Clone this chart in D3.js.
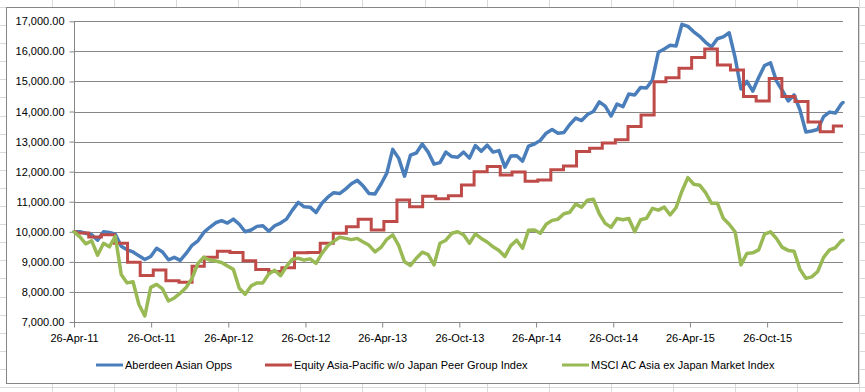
<!DOCTYPE html>
<html>
<head>
<meta charset="utf-8">
<script src="https://cdn.jsdelivr.net/npm/d3@7"></script>
<style>
html,body{margin:0;padding:0;background:#fff;}
svg{display:block;font-family:"Liberation Sans",Arial,sans-serif;}
</style>
</head>
<body>
<svg id="chart" width="865" height="392"></svg>
<script>
// ---- data ----
const startDate = "2011-04-26";
const endDate = "2016-04-23";
const tickLabels = ["26-Apr-11","26-Oct-11","26-Apr-12","26-Oct-12","26-Apr-13","26-Oct-13","26-Apr-14","26-Oct-14","26-Apr-15","26-Oct-15"];
const yTicks = [7000,8000,9000,10000,11000,12000,13000,14000,15000,16000,17000];
const seriesNames = ["Aberdeen Asian Opps","Equity Asia-Pacific w/o Japan Peer Group Index","MSCI AC Asia ex Japan Market Index"];
const seriesColors = ["#4a7ebb","#be4b48","#98b954"];

// fortnightly readings (from startDate, every 14 days, plus endDate)
const aberdeen = [10000,10000,9950,9900,9720,10000,9980,9920,9520,9400,
  9330,9200,9080,9180,9450,9330,9070,9150,9050,9280,
  9550,9700,9980,10150,10300,10370,10290,10420,10250,10000,
  10060,10180,10200,10020,10200,10290,10420,10720,10980,10830,
  10820,10640,10950,11150,11300,11270,11420,11600,11710,11520,
  11270,11260,11580,11950,12740,12450,11850,12550,12620,12920,
  12650,12250,12300,12650,12500,12480,12650,12450,12870,12680,
  12880,12650,12700,12150,12520,12530,12350,12850,12920,13040,
  13280,13400,13280,13300,13570,13780,13700,13900,14000,14320,
  14180,13850,14250,14160,14580,14550,14800,14780,15050,15970,
  16080,16200,16180,16900,16830,16650,16500,16300,16150,16420,
  16480,16620,15800,14750,15000,14680,15130,15530,15620,15020,
  14700,14350,14550,14050,13320,13350,13400,13830,13980,13950,
  14250,14300];
const msci = [10000,9830,9600,9700,9220,9620,9500,9850,8580,8300,
  8340,7580,7200,8150,8250,8100,7700,7800,7960,8150,
  8450,8950,9150,9060,9030,8980,8860,8750,8120,7920,
  8200,8300,8300,8600,8720,8540,8850,9090,9120,9060,
  9100,8950,9280,9540,9680,9820,9780,9740,9780,9660,
  9550,9330,9480,9750,9900,9550,9000,8880,9120,9320,
  9240,8900,9620,9720,9950,10000,9900,9620,9930,9780,
  9660,9500,9380,9180,9540,9720,9450,10050,10060,9950,
  10250,10380,10420,10600,10650,10920,10820,11050,11080,10600,
  10280,10150,10440,10400,10440,10000,10400,10450,10780,10720,
  10820,10560,10800,11350,11800,11580,11550,11300,10950,10950,
  10450,10250,10000,8900,9280,9300,9400,9920,10000,9780,
  9480,9380,9350,8750,8450,8500,8680,9150,9400,9470,
  9700,9720];

// monthly peer group index (held between month ends)
const peerDates = ["2011-04-26","2011-04-30","2011-05-31","2011-06-30","2011-07-31","2011-08-31","2011-09-30","2011-10-31","2011-11-30","2011-12-31",
  "2012-01-31","2012-02-29","2012-03-31","2012-04-30","2012-05-31","2012-06-30","2012-07-31","2012-08-31","2012-09-30","2012-10-31","2012-11-30","2012-12-31",
  "2013-01-31","2013-02-28","2013-03-31","2013-04-30","2013-05-31","2013-06-30","2013-07-31","2013-08-31","2013-09-30","2013-10-31","2013-11-30","2013-12-31",
  "2014-01-31","2014-02-28","2014-03-31","2014-04-30","2014-05-31","2014-06-30","2014-07-31","2014-08-31","2014-09-30","2014-10-31","2014-11-30","2014-12-31",
  "2015-01-31","2015-02-28","2015-03-31","2015-04-30","2015-05-31","2015-06-30","2015-07-31","2015-08-31","2015-09-30","2015-10-31","2015-11-30","2015-12-31",
  "2016-01-31","2016-02-29","2016-03-31","2016-04-23"];
const peerValues = [10000,9960,9830,9900,9620,8990,8550,8730,8370,8320,
  8850,9150,9350,9310,9040,8750,8680,8800,9300,9310,9620,9950,
  10170,10420,10060,10340,11060,10830,11180,11100,11200,11560,12000,12170,
  11890,11990,11680,11720,12060,12190,12670,12780,12950,13060,13500,13880,
  14990,15120,15440,15800,16080,15550,15380,14500,14350,15100,14500,14330,
  13650,13330,13520,13520];

// ---- build ----
const parseISO = d3.timeParse("%Y-%m-%d");
const parseTick = d3.timeParse("%d-%b-%y");
const t0 = parseISO(startDate), t1 = parseISO(endDate);
const sampleDates = d3.timeDay.range(t0, t1, 14);
sampleDates.push(t1);

const svg = d3.select("#chart");
const W = 865, H = 392;

// spreadsheet cell grid behind the chart
const grid = svg.append("g").attr("stroke","#d9d9d9").attr("stroke-width",1).attr("shape-rendering","crispEdges");
d3.range(-10, W + 62, 62.08).forEach(x => grid.append("line").attr("x1",Math.round(x)+0.5).attr("x2",Math.round(x)+0.5).attr("y1",0).attr("y2",H));
d3.range(6.9, H + 18, 18.1).forEach(y => grid.append("line").attr("y1",Math.round(y)+0.5).attr("y2",Math.round(y)+0.5).attr("x1",0).attr("x2",W));

// chart area
svg.append("rect").attr("x",6.5).attr("y",7.5).attr("width",852).attr("height",376)
  .attr("fill","#fff").attr("stroke","#868686").attr("stroke-width",1);

const x = d3.scaleTime().domain([t0, t1]).range([74, 843]);
const y = d3.scaleLinear().domain([7000, 17000]).range([322, 21.3]);

// gridlines
const gl = svg.append("g").attr("shape-rendering","crispEdges");
gl.selectAll("line").data(yTicks.slice(1)).join("line")
  .attr("x1",74).attr("x2",843)
  .attr("y1",d => Math.round(y(d))+0.5).attr("y2",d => Math.round(y(d))+0.5)
  .attr("stroke","#868686").attr("stroke-width",1);

// y axis
const yAxis = d3.axisLeft(y).tickValues(yTicks).tickFormat(d3.format(",.2f")).tickSize(5).tickPadding(5);
const ya = svg.append("g").attr("transform","translate(74.5,0)").call(yAxis);
ya.select(".domain").attr("stroke","#868686").attr("d","M0,21.3V322");
ya.selectAll(".tick line").attr("stroke","#868686");
ya.selectAll(".tick text").attr("font-size",11).attr("fill","#000").attr("font-family","'Liberation Sans',Arial,sans-serif");

// x axis
const xAxis = d3.axisBottom(x).tickValues(tickLabels.map(parseTick)).tickFormat(d3.timeFormat("%d-%b-%y")).tickSize(5).tickPadding(7);
const xa = svg.append("g").attr("transform","translate(0,322.5)").call(xAxis);
xa.select(".domain").attr("stroke","#868686").attr("d","M74,0H843");
xa.selectAll(".tick line").attr("stroke","#868686");
xa.selectAll(".tick text").attr("font-size",11).attr("fill","#000").attr("font-family","'Liberation Sans',Arial,sans-serif");

// series
const line = d3.line().x(d => x(d[0])).y(d => y(d[1]));
const stepLine = d3.line().x(d => x(d[0])).y(d => y(d[1])).curve(d3.curveStepAfter);
const sA = sampleDates.map((d,i) => [d, aberdeen[i]]);
const sP = peerDates.map((d,i) => [parseISO(d), peerValues[i]]);
const sM = sampleDates.map((d,i) => [d, msci[i]]);
const plot = svg.append("g").attr("fill","none").attr("stroke-linejoin","round").attr("stroke-linecap","round");
plot.append("path").attr("d", line(sA)).attr("stroke", seriesColors[0]).attr("stroke-width",3.5);
plot.append("path").attr("d", stepLine(sP)).attr("stroke", seriesColors[1]).attr("stroke-width",3).attr("stroke-linecap","butt").attr("stroke-linejoin","miter");
plot.append("path").attr("d", line(sM)).attr("stroke", seriesColors[2]).attr("stroke-width",3.5);

// legend
const legendX = [96, 265, 562];
const lg = svg.append("g");
seriesNames.forEach((name, i) => {
  lg.append("line").attr("x1",legendX[i]).attr("x2",legendX[i]+27).attr("y1",365).attr("y2",365)
    .attr("stroke",seriesColors[i]).attr("stroke-width",3);
  lg.append("text").attr("x",legendX[i]+29).attr("y",369).attr("font-size",11).attr("fill","#000").text(name);
});
</script>
</body>
</html>
